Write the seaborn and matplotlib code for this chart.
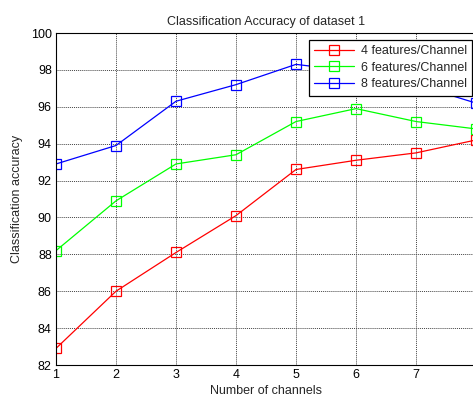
import numpy as np
import pandas as pd
import seaborn as sns
from matplotlib import pyplot as plt

# Data
channels = [1, 2, 3, 4, 5, 6, 7, 8]
acc_4 = [82.9, 86.0, 88.1, 90.1, 92.6, 93.1, 93.5, 94.2]
acc_6 = [88.2, 90.9, 92.9, 93.4, 95.2, 95.9, 95.2, 94.8]
acc_8 = [92.9, 93.9, 96.3, 97.2, 98.3, 97.9, 97.2, 96.2]
labels = ['4 features/Channel', '6 features/Channel', '8 features/Channel']
# the "8" tick sits right on the cropped edge, so it is not shown
xtick_labels = ['1', '2', '3', '4', '5', '6', '7', '']

df = pd.DataFrame({
    'channels': channels * 3,
    'accuracy': acc_4 + acc_6 + acc_8,
    'series': [labels[0]] * 8 + [labels[1]] * 8 + [labels[2]] * 8,
})

sns.set_style('white')
plt.rcParams['font.family'] = ['Liberation Sans', 'DejaVu Sans']
plt.rcParams['font.size'] = 9

fig = plt.figure(figsize=(4.73, 3.96), dpi=100)
# axes runs slightly past the right edge, like the cropped original
ax = fig.add_axes([56 / 473, 31 / 396, 420 / 473, 332 / 396])

palette = {labels[0]: '#ff0000', labels[1]: '#00ff00', labels[2]: '#0000ff'}
sns.lineplot(data=df, x='channels', y='accuracy', hue='series', palette=palette,
             marker='s', markersize=6.5, markerfacecolor='none',
             markeredgewidth=0.9, linewidth=0.9, dashes=False, ax=ax)
for line, lab in zip(ax.get_lines(), labels):
    line.set_markeredgecolor(palette[lab])

ax.set_xlim(1, 8)
ax.set_ylim(82, 100)
ax.set_xticks(channels)
ax.set_xticklabels(xtick_labels)
ax.set_yticks(np.arange(82, 101, 2))
ax.tick_params(direction='in', length=3, labelsize=9, colors='black', pad=3)
ax.grid(True, color='#444444', linestyle=(0, (1, 1)), linewidth=0.7)
for s in ax.spines.values():
    s.set_color('black')
    s.set_linewidth(0.8)

ax.set_title('Classification Accuracy of dataset 1', fontsize=9, pad=6)
ax.set_xlabel('Number of channels', fontsize=9, labelpad=3)
ax.set_ylabel('Classification accuracy', fontsize=9, labelpad=6)

handles, _ = ax.get_legend_handles_labels()
for h, lab in zip(handles, labels):
    h.set_markerfacecolor('none')
    h.set_markeredgecolor(palette[lab])
leg = ax.legend(handles, labels, loc='upper right',
                bbox_to_anchor=((472 - 56) / 420, 1 - 7 / 332),
                fontsize=9, fancybox=False, frameon=True, edgecolor='black',
                framealpha=1, handlelength=3.2, handletextpad=0.5,
                borderpad=0.42, labelspacing=0.36, borderaxespad=0.0)
leg.get_frame().set_linewidth(0.9)

fig.savefig('out.png', dpi=100)
